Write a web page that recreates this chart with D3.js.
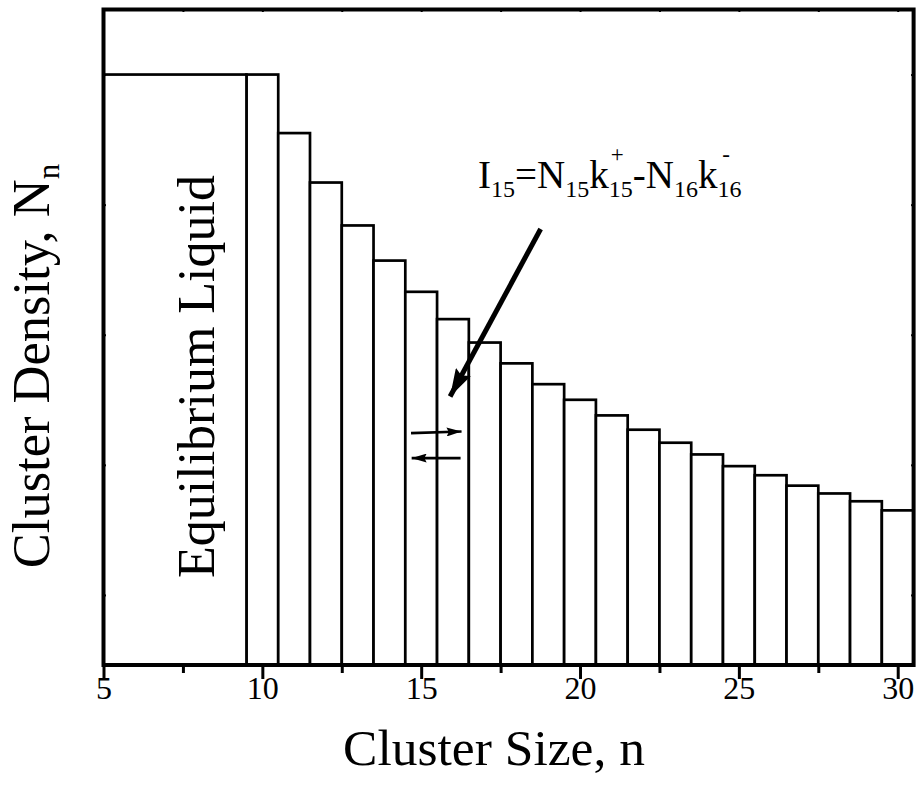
<!DOCTYPE html>
<html>
<head>
<meta charset="utf-8">
<script src="https://cdn.jsdelivr.net/npm/d3@7"></script>
<style>
  html, body { margin: 0; padding: 0; background: #fff; }
  svg { display: block; }
  svg text { font-family: "Liberation Serif", "Times New Roman", serif !important; fill: #000; }
</style>
</head>
<body>
<svg id="chart" width="922" height="788"></svg>
<script>
// Cluster size distribution: equilibrium liquid block plus one bar per cluster size
const clusterSizes = [10, 11, 12, 13, 14, 15, 16, 17, 18, 19, 20, 21, 22, 23, 24, 25, 26, 27, 28, 29, 30];
const clusterDensity = [5.00, 4.55, 4.17, 3.84, 3.57, 3.33, 3.12, 2.94, 2.78, 2.62, 2.50, 2.38, 2.27, 2.17, 2.08, 1.99, 1.92, 1.84, 1.78, 1.72, 1.65];
const liquidSpan = [5, 9.5];
const liquidDensity = 5.00;
const xMajorTicks = [5, 10, 15, 20, 25, 30];
const xMinorTicks = [7.5, 12.5, 17.5, 22.5, 27.5];
const yTicks = [1, 2, 3, 4, 5];

const width = 922, height = 788;
const margin = { left: 103.5, right: 8.4, top: 9.5, bottom: 123 };
const serif = "'Liberation Serif', 'Times New Roman', serif";

const svg = d3.select("#chart");
svg.append("rect").attr("width", width).attr("height", height).attr("fill", "#fff");

const x = d3.scaleLinear().domain([5, 30.5]).range([margin.left, width - margin.right]);
const y = d3.scaleLinear().domain([0.4615, 5.5]).range([height - margin.bottom, margin.top]);

const x0 = x.range()[0], x1 = x.range()[1];
const y0 = y.range()[0], y1 = y.range()[1];

// Bars, each one cluster size wide
const bars = clusterSizes.map((n, i) => ({ n, v: clusterDensity[i] }));
svg.append("g")
  .selectAll("rect")
  .data(bars)
  .join("rect")
  .attr("x", d => x(d.n - 0.5))
  .attr("width", d => x(d.n + 0.5) - x(d.n - 0.5))
  .attr("y", d => y(d.v))
  .attr("height", d => y0 - y(d.v))
  .attr("fill", "#fff")
  .attr("stroke", "#000")
  .attr("stroke-width", 2.7);

// Equilibrium liquid block
svg.append("rect")
  .attr("x", x(liquidSpan[0]))
  .attr("width", x(liquidSpan[1]) - x(liquidSpan[0]))
  .attr("y", y(liquidDensity))
  .attr("height", y0 - y(liquidDensity))
  .attr("fill", "#fff")
  .attr("stroke", "#000")
  .attr("stroke-width", 2.7);

svg.append("text")
  .attr("transform", `translate(214,376.5) rotate(-90)`)
  .attr("text-anchor", "middle")
  .style("font-family", serif)
  .attr("font-size", 52)
  .text("Equilibrium Liquid");

// Bottom axis: long major ticks, shorter minor ticks, pointing outward
const xAxis = d3.axisBottom(x).tickValues(xMajorTicks).tickSize(14).tickPadding(7).tickFormat(d3.format("d"));
const gx = svg.append("g").attr("transform", `translate(0,${y0})`).call(xAxis)
  .attr("font-family", null).attr("font-size", null);
gx.select(".domain").remove();
gx.selectAll(".tick line").attr("stroke", "#000").attr("stroke-width", 3);
gx.selectAll(".tick text")
  .style("font-family", serif)
  .attr("font-size", 32)
  .attr("dy", "0.71em")
  .attr("y", 11);

const xMinor = d3.axisBottom(x).tickValues(xMinorTicks).tickSize(8).tickFormat("");
const gxm = svg.append("g").attr("transform", `translate(0,${y0})`).call(xMinor);
gxm.select(".domain").remove();
gxm.selectAll(".tick line").attr("stroke", "#000").attr("stroke-width", 3);

// Small inward ticks on the remaining sides
const tinyTick = 2.5;
const gl = svg.append("g").attr("transform", `translate(${x0},0)`).call(d3.axisRight(y).tickValues(yTicks).tickSize(tinyTick).tickFormat(""));
const gr = svg.append("g").attr("transform", `translate(${x1},0)`).call(d3.axisLeft(y).tickValues(yTicks).tickSize(tinyTick).tickFormat(""));
const gt = svg.append("g").attr("transform", `translate(0,${y1})`).call(d3.axisBottom(x).tickValues(xMajorTicks.concat(xMinorTicks)).tickSize(tinyTick).tickFormat(""));
[gl, gr, gt].forEach(g => {
  g.select(".domain").remove();
  g.selectAll(".tick line").attr("stroke", "#000").attr("stroke-width", 2);
});

// Plot frame
svg.append("rect")
  .attr("x", x0).attr("y", y1)
  .attr("width", x1 - x0).attr("height", y0 - y1)
  .attr("fill", "none")
  .attr("stroke", "#000")
  .attr("stroke-width", 4);

// Axis titles
svg.append("text")
  .attr("x", 494).attr("y", 765)
  .attr("text-anchor", "middle")
  .style("font-family", serif)
  .attr("font-size", 51.5)
  .text("Cluster Size, n");

const yTitle = svg.append("text")
  .attr("transform", `translate(48.5,366) rotate(-90)`)
  .attr("text-anchor", "middle")
  .style("font-family", serif)
  .attr("font-size", 52.5);
yTitle.append("tspan").text("Cluster Density, N");
yTitle.append("tspan").attr("font-size", 31).attr("dy", 10).text("n");

// Flux annotation: I15 = N15 k+15 - N16 k-16
const mainSize = 39, subSize = 24, supSize = 23;
const runs = [
  { t: "I", s: mainSize, dy: 0 },
  { t: "15", s: subSize, dy: 9 },
  { t: "=N", s: mainSize, dy: 0 },
  { t: "15", s: subSize, dy: 9 },
  { t: "k", s: mainSize, dy: 0 },
  { t: "15", s: subSize, dy: 9, sup: "+" },
  { t: "-N", s: mainSize, dy: 0 },
  { t: "16", s: subSize, dy: 9 },
  { t: "k", s: mainSize, dy: 0 },
  { t: "16", s: subSize, dy: 9, sup: "-" }
];
const annX = x(16.79), annY = y(4.131);
const ann = svg.append("g");
let cx = annX;
runs.forEach(r => {
  const t = ann.append("text").attr("x", cx).attr("y", annY + r.dy)
    .style("font-family", serif).attr("font-size", r.s).text(r.t);
  const w = t.node().getComputedTextLength();
  if (r.sup) {
    ann.append("text")
      .attr("x", cx + w * 0.36).attr("y", annY - 26)
      .attr("text-anchor", "middle")
      .style("font-family", serif)
      .attr("font-size", supSize)
      .text(r.sup);
  }
  cx += w;
});

// Arrows
const defs = svg.append("defs");
function arrowHead(id, len, halfW) {
  defs.append("marker")
    .attr("id", id)
    .attr("viewBox", `0 ${-halfW} ${len} ${2 * halfW}`)
    .attr("refX", len).attr("refY", 0)
    .attr("markerUnits", "userSpaceOnUse")
    .attr("markerWidth", len).attr("markerHeight", 2 * halfW)
    .attr("orient", "auto")
    .append("path")
    .attr("d", `M0,${-halfW}L${len},0L0,${halfW}L${len * 0.15},0Z`)
    .attr("fill", "#000");
}
arrowHead("bigHead", 28, 8.5);
arrowHead("smallHead", 15, 4.5);

const arrows = [
  { from: [18.76, 3.813], to: [15.91, 2.525], w: 5, head: "bigHead" },
  { from: [14.68, 2.244], to: [16.27, 2.256], w: 2.6, head: "smallHead" },
  { from: [16.24, 2.052], to: [14.70, 2.052], w: 2.6, head: "smallHead" }
];
svg.append("g").selectAll("line")
  .data(arrows)
  .join("line")
  .attr("x1", d => x(d.from[0])).attr("y1", d => y(d.from[1]))
  .attr("x2", d => x(d.to[0])).attr("y2", d => y(d.to[1]))
  .attr("stroke", "#000")
  .attr("stroke-width", d => d.w)
  .attr("marker-end", d => `url(#${d.head})`);
</script>
</body>
</html>
